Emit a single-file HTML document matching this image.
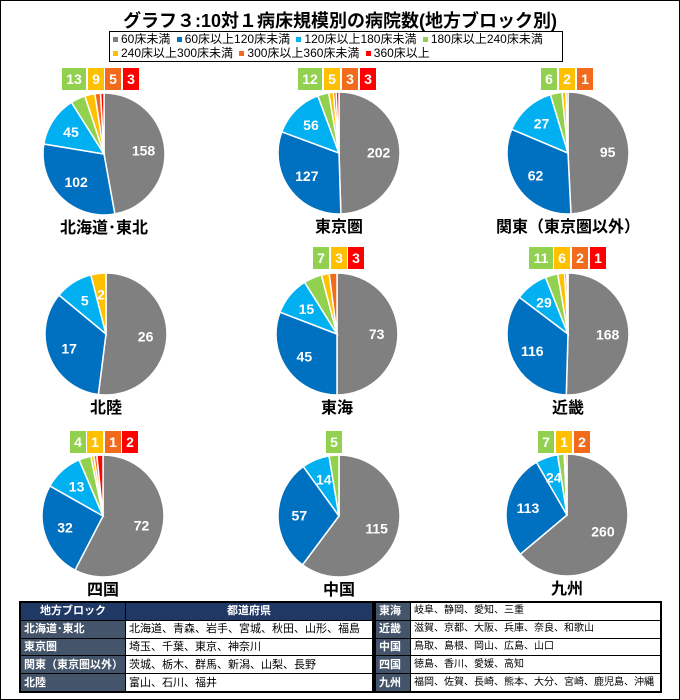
<!DOCTYPE html>
<html><head><meta charset="utf-8"><style>
body{margin:0;background:#fff;}
#w{position:relative;width:678px;height:698px;border:1px solid #000;overflow:hidden;font-family:"Liberation Sans","Noto Sans CJK JP",sans-serif;}
.t{position:absolute;left:0;width:678px;top:6px;text-align:center;font-size:18px;font-weight:bold;}
.lg{position:absolute;left:108px;top:30px;width:452px;height:29px;border:1px solid #000;font-size:12px;line-height:14px;}
.lg div{white-space:nowrap;}
.lg span{white-space:nowrap;margin-left:3px;}
.lg i{display:inline-block;width:5px;height:5px;margin-right:3px;vertical-align:middle;}
table{position:absolute;border-collapse:collapse;font-size:11px;table-layout:fixed;}
td{border:1px solid #000;height:16.8px;line-height:16px;padding:0 3px;white-space:nowrap;overflow:hidden;}
.h{background:#1F3864;color:#fff;font-weight:bold;text-align:center;}
.k{background:#44546A;color:#fff;font-weight:bold;}
</style></head><body><div id="w">
<div class="t">グラフ３:10対１病床規模別の病院数(地方ブロック別)</div>
<div class="lg"><div><span><i style="background:#808080"></i>60床未満</span> <span><i style="background:#0070C0"></i>60床以上120床未満</span> <span><i style="background:#00B0F0"></i>120床以上180床未満</span> <span><i style="background:#92D050"></i>180床以上240床未満</span></div><div><span><i style="background:#FFC000"></i>240床以上300床未満</span> <span><i style="background:#F26B1D"></i>300床以上360床未満</span> <span><i style="background:#FF0000"></i>360床以上</span></div></div>
<svg id="s" width="678" height="600" style="position:absolute;left:0;top:0"></svg>
<table style="left:18px;top:600px;width:355px;border:2px solid #000">
<tr><td class="h" style="width:98px">地方ブロック</td><td class="h">都道府県</td></tr>
<tr><td class="k">北海道･東北</td><td>北海道、青森、岩手、宮城、秋田、山形、福島</td></tr>
<tr><td class="k">東京圏</td><td>埼玉、千葉、東京、神奈川</td></tr>
<tr><td class="k">関東（東京圏以外）</td><td>茨城、栃木、群馬、新潟、山梨、長野</td></tr>
<tr><td class="k">北陸</td><td>富山、石川、福井</td></tr></table>
<table style="left:373px;top:600px;width:288px;border:2px solid #000;font-size:10px">
<tr><td class="k" style="width:28px;font-size:11px">東海</td><td>岐阜、静岡、愛知、三重</td></tr>
<tr><td class="k" style="font-size:11px">近畿</td><td>滋賀、京都、大阪、兵庫、奈良、和歌山</td></tr>
<tr><td class="k" style="font-size:11px">中国</td><td>鳥取、島根、岡山、広島、山口</td></tr>
<tr><td class="k" style="font-size:11px">四国</td><td>徳島、香川、愛媛、高知</td></tr>
<tr><td class="k" style="font-size:11px">九州</td><td>福岡、佐賀、長崎、熊本、大分、宮崎、鹿児島、沖縄</td></tr></table>
</div>
<script>
var C=["#808080","#0070C0","#00B0F0","#92D050","#FFC000","#F26B1D","#FF0000"];
var P=[
{cx:103,cy:153,n:"北海道･東北",d:[158,102,45,13,9,5,3],b:[[61,3,13],[87,4,9],[104,5,5],[122,6,3]],by:67},
{cx:338,cy:152,n:"東京圏",d:[202,127,56,12,5,3,3],b:[[297,3,12],[323,4,5],[341,5,3],[359,6,3]],by:67},
{cx:567,cy:152,n:"関東（東京圏以外）",d:[95,62,27,6,2,1,0],b:[[540,3,6],[558,4,2],[576,5,1]],by:67},
{cx:105,cy:333,n:"北陸",d:[26,17,5,0,2,0,0],b:[],by:0,inl:[4]},
{cx:336,cy:333,n:"東海",d:[73,45,15,7,3,3,0],b:[[312,3,7],[330,4,3],[347,6,3]],by:246},
{cx:567,cy:333,n:"近畿",d:[168,116,29,11,6,2,1],b:[[528,3,11],[553,4,6],[571,5,2],[589,6,1]],by:246},
{cx:102,cy:515,n:"四国",d:[72,32,13,4,1,1,2],b:[[69,3,4],[86,4,1],[104,5,1],[121,6,2]],by:430},
{cx:338,cy:515,n:"中国",d:[115,57,14,5,0,0,0],b:[[325,3,5]],by:430},
{cx:566,cy:514,n:"九州",d:[260,113,24,7,1,2,0],b:[[537,3,7],[555,4,1],[573,5,2]],by:430}];
var h="",R=61;
P.forEach(function(p){
 var t=p.d.reduce(function(a,b){return a+b},0),a=0;
 p.d.forEach(function(v,i){ if(!v)return;
  var a1=a/t*2*Math.PI,a2=(a+v)/t*2*Math.PI;a+=v;
  var x1=p.cx+R*Math.sin(a1),y1=p.cy-R*Math.cos(a1),x2=p.cx+R*Math.sin(a2),y2=p.cy-R*Math.cos(a2);
  h+='<path d="M'+p.cx+','+p.cy+' L'+x1+','+y1+' A'+R+','+R+' 0 '+((a2-a1)>Math.PI?1:0)+' 1 '+x2+','+y2+' Z" fill="'+C[i]+'" stroke="#fff" stroke-width="1.5"/>';
  if(i<3||(p.inl&&p.inl.indexOf(i)>=0)){var m=(a1+a2)/2,r=R*0.65;
   h+='<text x="'+(p.cx+r*Math.sin(m))+'" y="'+(p.cy-r*Math.cos(m)+5)+'" fill="#fff" font-size="14" font-weight="bold" text-anchor="middle">'+v+'</text>';}
 });
 p.b.forEach(function(b){var w=String(b[2]).length>1?24:16;
  h+='<rect x="'+b[0]+'" y="'+p.by+'" width="'+w+'" height="22" fill="'+C[b[1]]+'"/><text x="'+(b[0]+w/2)+'" y="'+(p.by+16)+'" fill="#fff" font-size="14" font-weight="bold" text-anchor="middle">'+b[2]+'</text>';});
 h+='<text x="'+p.cx+'" y="'+(p.cy+79)+'" font-size="16" font-weight="bold" text-anchor="middle">'+p.n+'</text>';
});
document.getElementById("s").innerHTML=h;
</script></body></html>
